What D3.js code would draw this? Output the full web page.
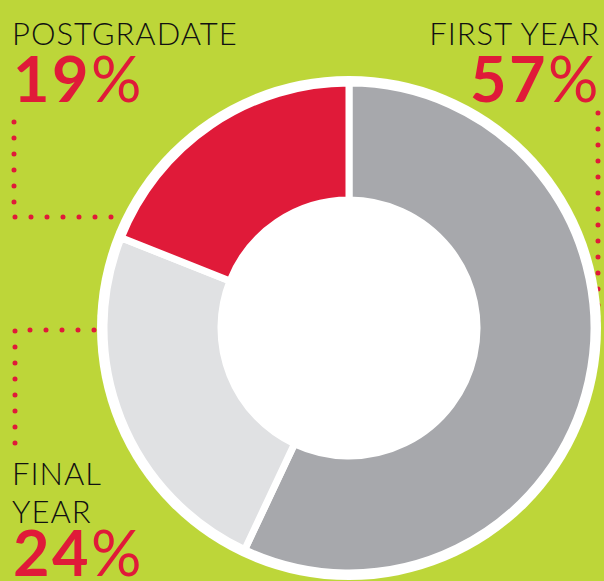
<!DOCTYPE html>
<html>
<head>
<meta charset="utf-8">
<script src="https://cdn.jsdelivr.net/npm/d3@7"></script>
<style>
  html, body { margin: 0; padding: 0; background: #BDD639; }
  svg { display: block; }
</style>
</head>
<body>
<div id="chart"></div>
<script>
// Data
const categories = ["First Year", "Final Year", "Postgraduate"];
const shares = [57, 24, 19];
const labelLines = [["FIRST YEAR"], ["FINAL", "YEAR"], ["POSTGRADATE"]];

const width = 604;
const height = 581;
const bg = "#BDD639";
const red = "#E01A39";

const colorScale = d3.scaleOrdinal()
  .domain(categories)
  .range(["#A7A8AC", "#E0E1E3", "#E01A39"]);

const svg = d3.select("#chart")
  .append("svg")
    .attr("width", width)
    .attr("height", height);

svg.append("rect").attr("width", width).attr("height", height).attr("fill", bg);

// Pie layout
const cx = 349, cy = 328;
const outerR = 245, innerR = 128, ringR = 252;

// Dotted leader lines (drawn under the donut)
const leaders = [
  [[14, 122], [14, 217], [118, 217]],   // postgraduate
  [[94, 330], [15, 330], [15, 450]],    // final year
  [[598, 113], [598, 330]]              // first year
];
const line = d3.line();
svg.append("g")
  .selectAll("path")
  .data(leaders)
  .join("path")
    .attr("d", line)
    .attr("fill", "none")
    .attr("stroke", red)
    .attr("stroke-width", 5)
    .attr("stroke-linecap", "round")
    .attr("stroke-dasharray", "0 16");

const g = svg.append("g").attr("transform", `translate(${cx},${cy})`);

// white disc behind the slices
g.append("circle").attr("r", ringR).attr("fill", "#fff");

const pie = d3.pie()
  .sort(null)
  .value(d => d.value);

const data = categories.map((c, i) => ({ name: c, value: shares[i] }));

const arc = d3.arc()
  .innerRadius(innerR)
  .outerRadius(outerR);

g.selectAll("path.slice")
  .data(pie(data))
  .join("path")
    .attr("class", "slice")
    .attr("d", arc)
    .attr("fill", d => colorScale(d.data.name))
    .attr("stroke", "#fff")
    .attr("stroke-width", 7)
    .attr("stroke-linejoin", "miter");

g.append("circle").attr("r", innerR - 1).attr("fill", "#fff");

// Labels
const labelFont = "Lato, 'Open Sans', sans-serif";
const labelPos = [
  { x: 599, y: 45, anchor: "end", pctY: 102 },
  { x: 12, y: 485, anchor: "start", pctY: 576 },
  { x: 12, y: 45, anchor: "start", pctY: 102 }
];

categories.forEach((c, i) => {
  const p = labelPos[i];
  labelLines[i].forEach((t, j) => {
    svg.append("text")
      .attr("x", p.anchor === "end" ? p.x + 1 : p.x)
      .attr("y", p.y + j * 38)
      .attr("text-anchor", p.anchor)
      .attr("font-family", labelFont)
      .attr("font-weight", 300)
      .attr("font-size", 31)
      .attr("letter-spacing", 1)
      .attr("fill", "#111")
      .text(t);
  });
  const pct = svg.append("text")
    .attr("x", p.anchor === "start" ? p.x + 1 : p.x + 2)
    .attr("y", p.pctY)
    .attr("text-anchor", p.anchor)
    .attr("font-family", labelFont)
    .attr("font-size", 63)
    .attr("letter-spacing", 2.5)
    .attr("fill", red);
  pct.append("tspan").attr("font-weight", 700).text(shares[i]);
  pct.append("tspan").attr("font-weight", 400).text("%");
});
</script>
</body>
</html>
